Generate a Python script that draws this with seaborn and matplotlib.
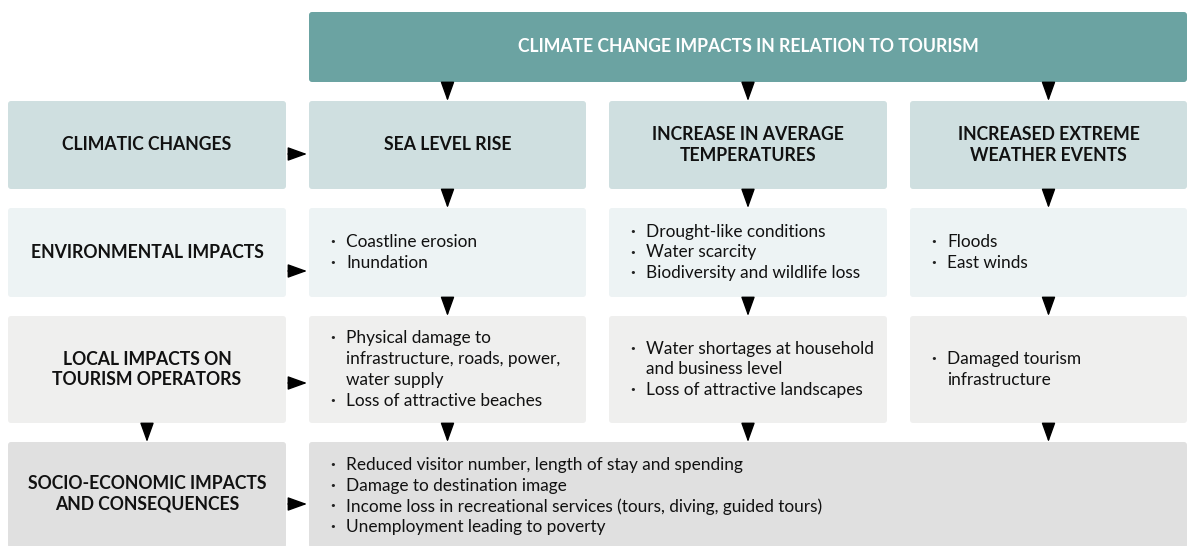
import matplotlib
matplotlib.use('Agg')
import matplotlib.pyplot as plt
from matplotlib.patches import FancyBboxPatch
import seaborn as sns

sns.set_theme(style='white')
plt.rcParams['font.family'] = ['Lato', 'DejaVu Sans']

# ---- diagram content ----
title = 'CLIMATE CHANGE IMPACTS IN RELATION TO TOURISM'
row_labels = ['CLIMATIC CHANGES', 'ENVIRONMENTAL IMPACTS',
              'LOCAL IMPACTS ON\nTOURISM OPERATORS',
              'SOCIO-ECONOMIC IMPACTS\nAND CONSEQUENCES']
change_types = ['SEA LEVEL RISE', 'INCREASE IN AVERAGE\nTEMPERATURES',
                'INCREASED EXTREME\nWEATHER EVENTS']
env_impacts = [
    [['Coastline erosion'], ['Inundation']],
    [['Drought-like conditions'], ['Water scarcity'], ['Biodiversity and wildlife loss']],
    [['Floods'], ['East winds']],
]
local_impacts = [
    [['Physical damage to', 'infrastructure, roads, power,', 'water supply'],
     ['Loss of attractive beaches']],
    [['Water shortages at household', 'and business level'],
     ['Loss of attractive landscapes']],
    [['Damaged tourism', 'infrastructure']],
]
socio_impacts = [
    ['Reduced visitor number, length of stay and spending'],
    ['Damage to destination image'],
    ['Income loss in recreational services (tours, diving, guided tours)'],
    ['Unemployment leading to poverty'],
]

# colours
c_title = '#6ba3a2'
row_colors = ['#cfdfe0', '#edf3f4', '#efefee', '#e0e0e0']

# layout (pixels)
W, H = 1188, 546
left_x = (8, 286)
cols_x = [(309, 586), (609, 887), (910, 1187)]
rows_y = [(101, 189), (208, 297), (316, 423), (442, 548)]
title_y = (12, 82)
row_arrow_y = [154, 271, 383, 504]
fs_head = 12.7
fs_body = 12.4

fig = plt.figure(figsize=(W / 100, H / 100), dpi=100)
ax = fig.add_axes([0, 0, 1, 1])
ax.set_xlim(0, W)
ax.set_ylim(H, 0)
ax.axis('off')

def box(x0, x1, y0, y1, color):
    ax.add_patch(FancyBboxPatch((x0 + 3, y0 + 3), x1 - x0 - 6, y1 - y0 - 6,
                                boxstyle='round,pad=3', fc=color, ec='none'))

def arrow(x0, y0, x1, y1):
    ax.annotate('', xy=(x1, y1), xytext=(x0, y0),
                arrowprops=dict(arrowstyle='-|>,head_length=1.0,head_width=0.36',
                                mutation_scale=12, color='black', lw=1,
                                shrinkA=0, shrinkB=0))

def bullets(items, x0, yc, fs=fs_body, lh=20.8):
    nlines = sum(len(it) for it in items)
    y = yc - (nlines - 1) * lh / 2
    for it in items:
        ax.text(x0, y, '·', ha='left', va='center', fontsize=fs, fontweight='bold', color='#222222')
        for line in it:
            ax.text(x0 + 16, y, line, ha='left', va='center', fontsize=fs, color='#111111')
            y += lh

# title
box(cols_x[0][0], cols_x[2][1], title_y[0], title_y[1], c_title)
ax.text((cols_x[0][0] + cols_x[2][1]) / 2, 47, title, ha='center', va='center',
        color='white', fontsize=fs_head, fontweight='bold')

# rows
for i, (y0, y1) in enumerate(rows_y):
    yc = (y0 + min(y1, H)) / 2
    box(left_x[0], left_x[1], y0, y1, row_colors[i])
    ax.text((left_x[0] + left_x[1]) / 2, yc, row_labels[i], ha='center', va='center',
            fontsize=fs_head, fontweight='bold', linespacing=1.25, color='#111111')
    arrow(288, row_arrow_y[i], 307, row_arrow_y[i])
    if i < 3:
        for j, (x0, x1) in enumerate(cols_x):
            box(x0, x1, y0, y1, row_colors[i])
            if i == 0:
                ax.text((x0 + x1) / 2, yc, change_types[j], ha='center', va='center',
                        fontsize=fs_head, fontweight='bold', linespacing=1.25, color='#111111')
            elif i == 1:
                bullets(env_impacts[j], x0 + 21, yc)
            else:
                bullets(local_impacts[j], x0 + 21, yc)
    else:
        box(cols_x[0][0], cols_x[2][1], y0, y1, row_colors[i])
        bullets(socio_impacts, cols_x[0][0] + 21, 496)

# vertical arrows
for x0, x1 in cols_x:
    xc = (x0 + x1) / 2
    arrow(xc, title_y[1] + 1, xc, rows_y[0][0])
    for k in range(3):
        arrow(xc, rows_y[k][1] + 2, xc, rows_y[k + 1][0])
arrow(147, rows_y[2][1] + 2, 147, rows_y[3][0])

fig.savefig('out.png', dpi=100)
